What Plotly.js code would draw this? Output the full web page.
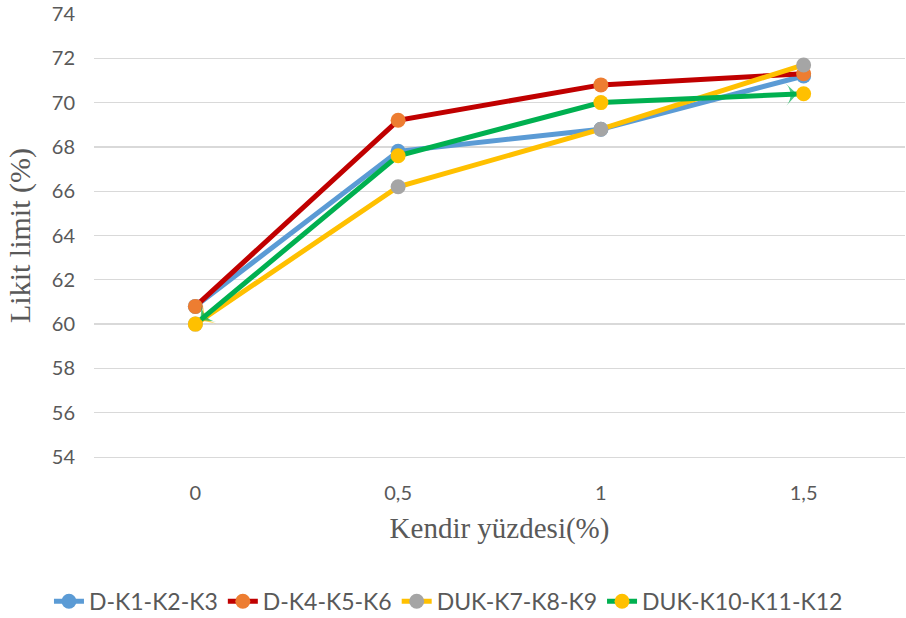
<!DOCTYPE html>
<html>
<head>
<meta charset="utf-8">
<script src="https://cdn.plot.ly/plotly-3.0.1.min.js"></script>
<style>
  html, body { margin: 0; padding: 0; background: #ffffff; }
  #chart { width: 906px; height: 618px; }
</style>
</head>
<body>
<div id="chart"></div>
<script>
// Hemp fibre content (%) and liquid limit (%) for each mix group
const kendirPct = [0, 0.5, 1, 1.5];
const kendirLabels = ['0', '0,5', '1', '1,5'];

const dK1K2K3 = [60.8, 67.8, 68.8, 71.2];
const dK4K5K6 = [60.8, 69.2, 70.8, 71.3];
const dukK7K8K9 = [60.0, 66.2, 68.8, 71.7];
const dukK10K11K12 = [60.0, 67.6, 70.0, 70.4];

const seriesNames = ['D-K1-K2-K3', 'D-K4-K5-K6', 'DUK-K7-K8-K9', 'DUK-K10-K11-K12'];
const lineColors = ['#5B9BD5', '#C00000', '#FFC000', '#00B050'];
const markerColors = ['#5B9BD5', '#ED7D31', '#A5A5A5', '#FFC000'];

const LINE_W = 5;
const MARKER_SIZE = 15;
const textGrey = '#595959';

function series(ys, i) {
  return {
    type: 'scatter', mode: 'lines+markers',
    name: seriesNames[i], x: kendirPct, y: ys,
    line: { color: lineColors[i], width: LINE_W },
    marker: { color: markerColors[i], size: MARKER_SIZE, line: { width: 0 } },
    hoverinfo: 'skip'
  };
}

// Arrowhead at one end of a line, oriented along the last segment,
// with its tip resting on the edge of the end marker
function lineEndArrow(ys, end, color) {
  const n = kendirPct.length;
  const idx = end === 'start' ? [1, 0] : [n - 2, n - 1];
  return {
    type: 'scatter', mode: 'markers', showlegend: false, hoverinfo: 'skip',
    x: idx.map(k => kendirPct[k]), y: idx.map(k => ys[k]),
    marker: { symbol: 'arrow-wide', angleref: 'previous', size: [0, 16],
              standoff: MARKER_SIZE / 2 - 1, color: color, line: { width: 0 } }
  };
}

const traces = [
  series(dK1K2K3, 0),
  series(dK4K5K6, 1),
  series(dukK7K8K9, 2),
  lineEndArrow(dukK7K8K9, 'start', lineColors[2]),
  series(dukK10K11K12, 3),
  lineEndArrow(dukK10K11K12, 'start', lineColors[3]),
  lineEndArrow(dukK10K11K12, 'end', lineColors[3])
];

const layout = {
  width: 906, height: 618,
  margin: { l: 94, r: 1, t: 14, b: 161 },
  paper_bgcolor: '#ffffff', plot_bgcolor: '#ffffff',
  showlegend: true,
  font: { family: 'Lato, sans-serif', color: textGrey },
  xaxis: {
    range: [-0.25, 1.75],
    tickmode: 'array', tickvals: kendirPct, ticktext: kendirLabels,
    showgrid: false, zeroline: false,
    showline: true, linecolor: '#D9D9D9', linewidth: 1.3,
    ticks: '', ticklabelstandoff: 18,
    tickfont: { family: 'Lato, sans-serif', size: 20, color: textGrey },
    title: { text: 'Kendir yüzdesi(%)', standoff: 14,
             font: { family: 'Liberation Serif, Times New Roman, serif', size: 29, color: textGrey } }
  },
  yaxis: {
    range: [54, 74], tick0: 54, dtick: 2,
    showgrid: true, gridcolor: '#D9D9D9', gridwidth: 1.3,
    zeroline: false, showline: false, ticks: '', ticklabelstandoff: 18,
    tickfont: { family: 'Lato, sans-serif', size: 20, color: textGrey },
    title: { text: 'Likit limit (%)', standoff: 12,
             font: { family: 'Liberation Serif, Times New Roman, serif', size: 30, color: textGrey } }
  },
  legend: {
    orientation: 'h',
    xref: 'container', yref: 'container',
    x: 0.495, y: 0.027, xanchor: 'center', yanchor: 'middle',
    font: { family: 'Lato, sans-serif', size: 23, color: textGrey },
    itemwidth: 30
  }
};

Plotly.newPlot('chart', traces, layout, { displayModeBar: false, staticPlot: true });
</script>
</body>
</html>
